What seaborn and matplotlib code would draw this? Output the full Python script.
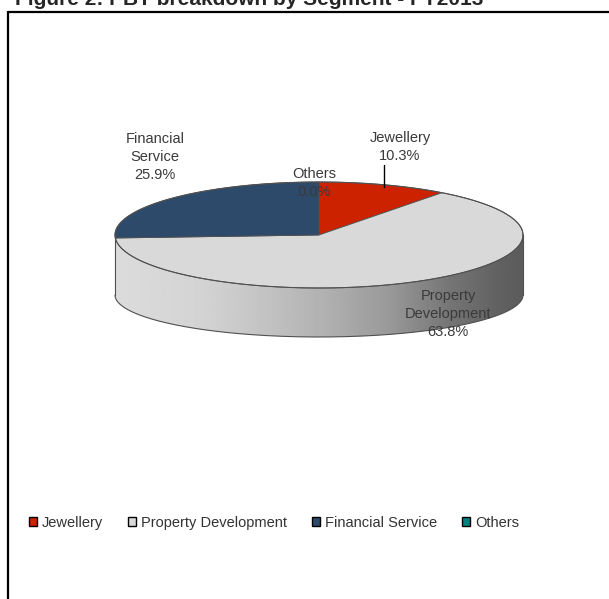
import numpy as np
import matplotlib
matplotlib.use("Agg")
import matplotlib.pyplot as plt
import seaborn as sns
from matplotlib.patches import Polygon, Patch

# Profit before tax by business segment (share of total, %)
segments = ["Jewellery", "Property Development", "Financial Service", "Others"]
shares = [10.3, 63.8, 25.9, 0.0]
colors = ["#CC2200", "#D9D9D9", "#2E4A6B", "#008080"]
title = "Figure 2: PBT breakdown by Segment - FY2013"

sns.set_style("white")
plt.rcParams["font.family"] = ["Liberation Sans", "DejaVu Sans"]

W, H = 609, 599
fig = plt.figure(figsize=(W / 100, H / 100), dpi=100)
ax = fig.add_axes([0, 0, 1, 1])
ax.set_xlim(0, W)
ax.set_ylim(H, 0)
ax.axis("off")

# geometry of the tilted disc (top ellipse, wall depth, flatter bottom rim)
cx, cy = 319, 235
a, b = 204, 53
depth, b_bot = 60, 42
edge = "#505050"


def top_pt(th):
    r = np.radians(th)
    return cx + a * np.cos(r), cy - b * np.sin(r)


def bot_pt(th):
    r = np.radians(th)
    return cx + a * np.cos(r), cy + depth - b_bot * np.sin(r)


def arc(fn, t0, t1, n=200):
    ts = np.linspace(t0, t1, n)
    xs, ys = fn(ts)
    return np.column_stack([xs, ys])


# slice angles: start at 12 o'clock, run clockwise
starts, ends = [], []
t = 90.0
for v in shares:
    starts.append(t)
    t -= v * 3.6
    ends.append(t)

# shading of the front wall: light on the left, dark on the right
grad_x = np.linspace(cx - a, cx + a, 400)
stops_x = [cx - a, 200, 250, 320, 390, 450, 500, cx + a]
stops_v = [0.86, 0.83, 0.78, 0.70, 0.60, 0.46, 0.38, 0.36]
grad = np.interp(grad_x, stops_x, stops_v)[None, :]

for s, e, col in zip(starts, ends, colors):
    if s == e:
        continue
    lo, hi = max(e, -180.0), min(s, 0.0)
    if lo >= hi:
        continue
    pts = np.vstack([arc(top_pt, lo, hi), arc(bot_pt, hi, lo)])
    wall = Polygon(pts, closed=True, facecolor="none", edgecolor="none")
    ax.add_patch(wall)
    if col == colors[1]:
        im = ax.imshow(grad, extent=[cx - a, cx + a, cy + depth + b_bot + 2, cy - 5],
                       aspect="auto", cmap="gray", vmin=0, vmax=1,
                       interpolation="bilinear", zorder=1)
        im.set_clip_path(wall)
    else:
        wall.set_facecolor(col)
        wall.set_zorder(1)

# wall outline
ax.plot(*arc(bot_pt, -180, 0).T, color=edge, lw=0.8, zorder=3)
for th in (-180, 0):
    x0, y0 = top_pt(th)
    x1, y1 = bot_pt(th)
    ax.plot([x0, x1], [y0, y1], color=edge, lw=0.8, zorder=3)

# top face wedges
for s, e, col in zip(starts, ends, colors):
    if s == e:
        continue
    pts = np.vstack([[cx, cy], arc(top_pt, s, e)])
    ax.add_patch(Polygon(pts, closed=True, facecolor=col, edgecolor=edge,
                         linewidth=0.6, zorder=2))
ax.plot(*arc(top_pt, 0, 360, 400).T, color=edge, lw=0.8, zorder=3)

# data labels
label_pos = {
    "Jewellery": (400, 147),
    "Property Development": (448, 314),
    "Financial Service": (155, 157),
    "Others": (314, 183),
}
for name, v in zip(segments, shares):
    x, y = label_pos[name]
    ax.text(x, y, f"{name.replace(' ', chr(10))}\n{v:.1f}%", ha="center", va="center",
            fontsize=10.5, color="#3a3a3a", linespacing=1.4, zorder=5)
ax.plot([384, 384], [165, 187], color="black", lw=1.0, zorder=4)

# legend
handles = [Patch(facecolor=c, edgecolor="black", linewidth=1.0, label=s)
           for s, c in zip(segments, colors)]
fig.legend(handles=handles, loc="center", bbox_to_anchor=(274 / W, 1 - 523 / H),
           ncol=4, frameon=False, fontsize=10.5, handlelength=0.55, handleheight=0.55,
           handletextpad=0.3, columnspacing=1.75, labelcolor="#333333",
           borderpad=0, borderaxespad=0)

# title (runs off the top edge) and frame
fig.text(15 / W, 1 - 5 / H, title, fontsize=15, fontweight="bold", va="baseline", ha="left")
ax.plot([8, 8], [12, H + 5], color="black", lw=1.6, clip_on=False, zorder=6)
ax.plot([8, W + 5], [12, 12], color="black", lw=1.6, clip_on=False, zorder=6)

fig.savefig("out.png", dpi=100)
